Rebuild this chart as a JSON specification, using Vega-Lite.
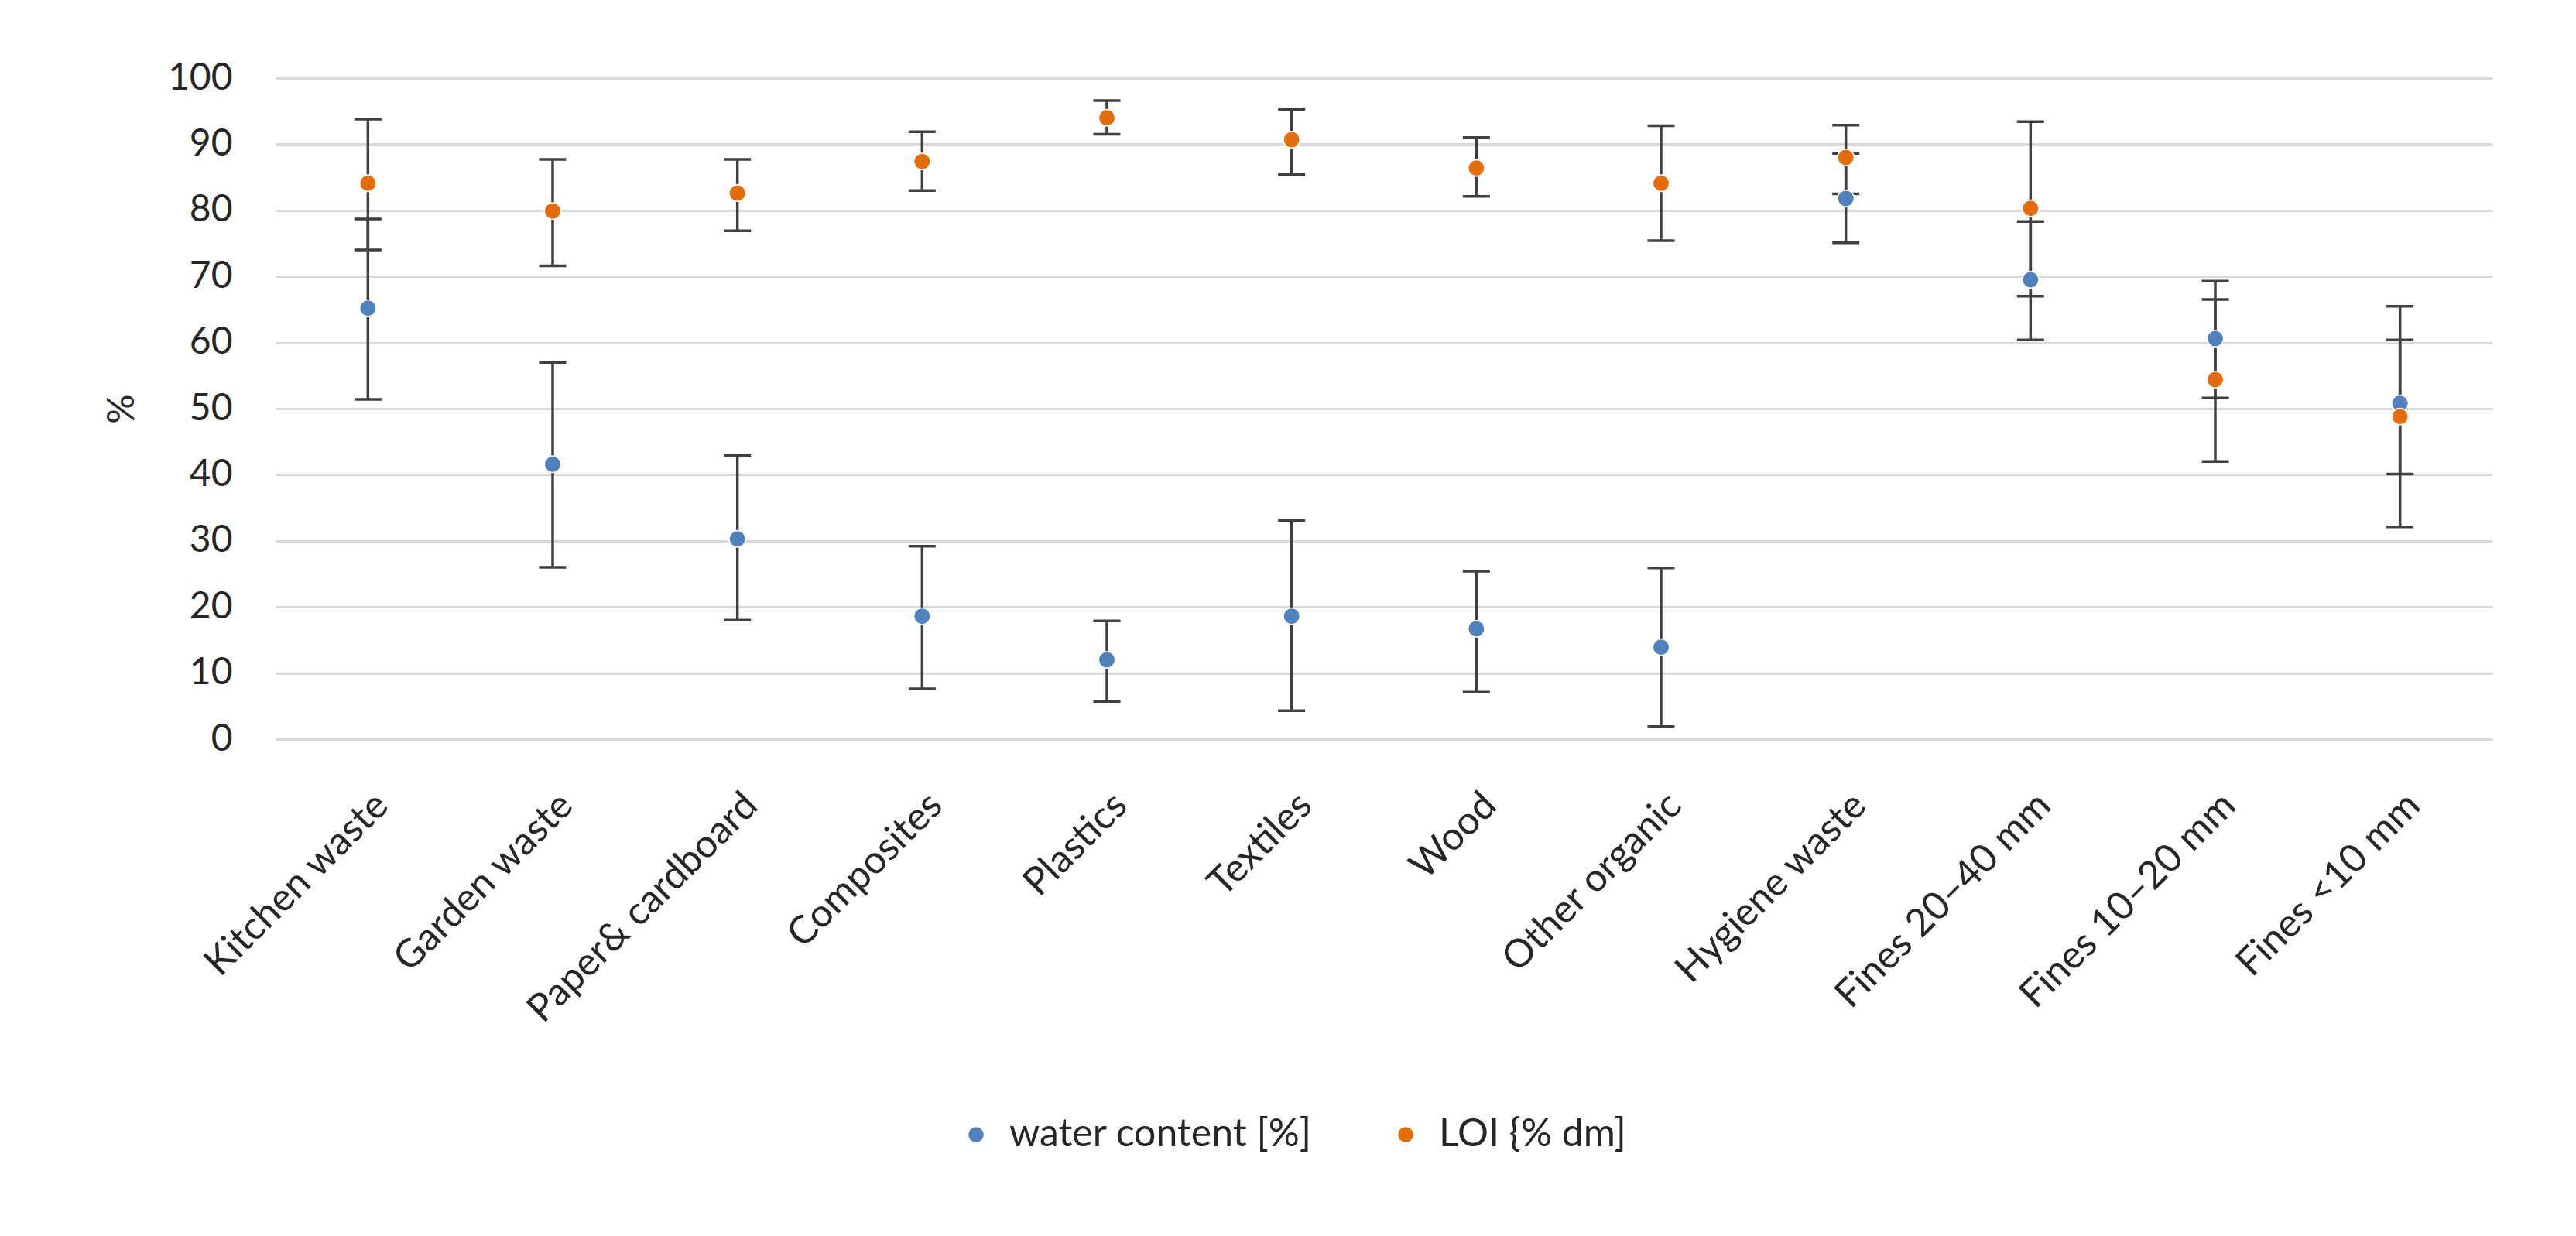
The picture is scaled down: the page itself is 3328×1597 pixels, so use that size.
{
  "$schema": "https://vega.github.io/schema/vega-lite/v6.json",
  "width": 2864,
  "height": 854,
  "autosize": {"type": "none"},
  "padding": {"left": 356, "top": 101, "right": 108, "bottom": 642},
  "background": "white",
  "config": {
    "font": "Lato",
    "view": {"stroke": null},
    "axis": {"labelFont": "Lato", "titleFont": "Lato"},
    "legend": {"labelFont": "Lato"}
  },
  "data": {
    "values": [
      {"cat": "Kitchen waste", "series": "water content [%]", "v": 65.2, "lo": 51.4, "hi": 78.7},
      {"cat": "Garden waste", "series": "water content [%]", "v": 41.6, "lo": 26.0, "hi": 57.0},
      {"cat": "Paper& cardboard", "series": "water content [%]", "v": 30.3, "lo": 18.0, "hi": 42.9},
      {"cat": "Composites", "series": "water content [%]", "v": 18.6, "lo": 7.6, "hi": 29.2},
      {"cat": "Plastics", "series": "water content [%]", "v": 12.0, "lo": 5.7, "hi": 17.9},
      {"cat": "Textiles", "series": "water content [%]", "v": 18.6, "lo": 4.3, "hi": 33.1},
      {"cat": "Wood", "series": "water content [%]", "v": 16.7, "lo": 7.1, "hi": 25.4},
      {"cat": "Other organic", "series": "water content [%]", "v": 13.9, "lo": 1.9, "hi": 25.9},
      {"cat": "Hygiene waste", "series": "water content [%]", "v": 81.8, "lo": 75.1, "hi": 88.6},
      {"cat": "Fines 20–40 mm", "series": "water content [%]", "v": 69.5, "lo": 60.4, "hi": 78.3},
      {"cat": "Fines 10–20 mm", "series": "water content [%]", "v": 60.6, "lo": 51.6, "hi": 69.3},
      {"cat": "Fines <10 mm", "series": "water content [%]", "v": 50.8, "lo": 40.1, "hi": 60.4},
      {"cat": "Kitchen waste", "series": "LOI {% dm]", "v": 84.1, "lo": 74.0, "hi": 93.8},
      {"cat": "Garden waste", "series": "LOI {% dm]", "v": 79.9, "lo": 71.6, "hi": 87.7},
      {"cat": "Paper& cardboard", "series": "LOI {% dm]", "v": 82.6, "lo": 76.9, "hi": 87.7},
      {"cat": "Composites", "series": "LOI {% dm]", "v": 87.4, "lo": 83.0, "hi": 91.9},
      {"cat": "Plastics", "series": "LOI {% dm]", "v": 94.0, "lo": 91.5, "hi": 96.6},
      {"cat": "Textiles", "series": "LOI {% dm]", "v": 90.7, "lo": 85.4, "hi": 95.3},
      {"cat": "Wood", "series": "LOI {% dm]", "v": 86.4, "lo": 82.1, "hi": 91.0},
      {"cat": "Other organic", "series": "LOI {% dm]", "v": 84.1, "lo": 75.4, "hi": 92.8},
      {"cat": "Hygiene waste", "series": "LOI {% dm]", "v": 88.0, "lo": 82.5, "hi": 92.9},
      {"cat": "Fines 20–40 mm", "series": "LOI {% dm]", "v": 80.3, "lo": 67.0, "hi": 93.4},
      {"cat": "Fines 10–20 mm", "series": "LOI {% dm]", "v": 54.4, "lo": 42.0, "hi": 66.5},
      {"cat": "Fines <10 mm", "series": "LOI {% dm]", "v": 48.8, "lo": 32.1, "hi": 65.5}
    ]
  },
  "encoding": {
    "x": {
      "field": "cat",
      "type": "nominal",
      "sort": null,
      "scale": {"type": "point", "padding": 0.5},
      "axis": {
        "title": null,
        "labelAngle": -45,
        "labelFontSize": 50,
        "labelColor": "#262626",
        "labelPadding": 60,
        "labelLimit": 1000,
        "ticks": false,
        "domain": false,
        "grid": false
      }
    }
  },
  "layer": [
    {
      "mark": {"type": "rule", "color": "#404040", "strokeWidth": 3.5},
      "encoding": {
        "y": {
          "field": "lo",
          "type": "quantitative",
          "scale": {"domain": [0, 100], "nice": false},
          "axis": {
            "title": "%",
            "titleFontSize": 48,
            "titleFontWeight": "normal",
            "titleColor": "#262626",
            "titlePadding": 34,
            "values": [0, 10, 20, 30, 40, 50, 60, 70, 80, 90, 100],
            "labelFontSize": 48,
            "labelColor": "#262626",
            "labelPadding": 56,
            "ticks": false,
            "domain": false,
            "grid": true,
            "gridColor": "#D9D9D9",
            "gridWidth": 3
          }
        },
        "y2": {"field": "hi"}
      }
    },
    {
      "mark": {"type": "tick", "color": "#404040", "thickness": 3.5, "size": 35, "opacity": 1},
      "encoding": {"y": {"field": "lo", "type": "quantitative"}}
    },
    {
      "mark": {"type": "tick", "color": "#404040", "thickness": 3.5, "size": 35, "opacity": 1},
      "encoding": {"y": {"field": "hi", "type": "quantitative"}}
    },
    {
      "mark": {"type": "point", "shape": "circle", "filled": true, "size": 460, "stroke": "white", "strokeWidth": 1.5, "opacity": 1},
      "encoding": {
        "y": {"field": "v", "type": "quantitative"},
        "color": {
          "field": "series",
          "type": "nominal",
          "sort": null,
          "scale": {"domain": ["water content [%]", "LOI {% dm]"], "range": ["#4F81BD", "#E46C0A"]},
          "legend": {
            "title": null,
            "orient": "none",
            "direction": "horizontal",
            "legendX": 880,
            "legendY": 1340,
            "labelFontSize": 50,
            "labelLimit": 1000,
            "labelColor": "#262626",
            "symbolType": "circle",
            "symbolSize": 380,
            "symbolStrokeWidth": 0,
            "labelOffset": 18,
            "columnPadding": 95,
            "padding": 0
          }
        }
      }
    }
  ]
}
